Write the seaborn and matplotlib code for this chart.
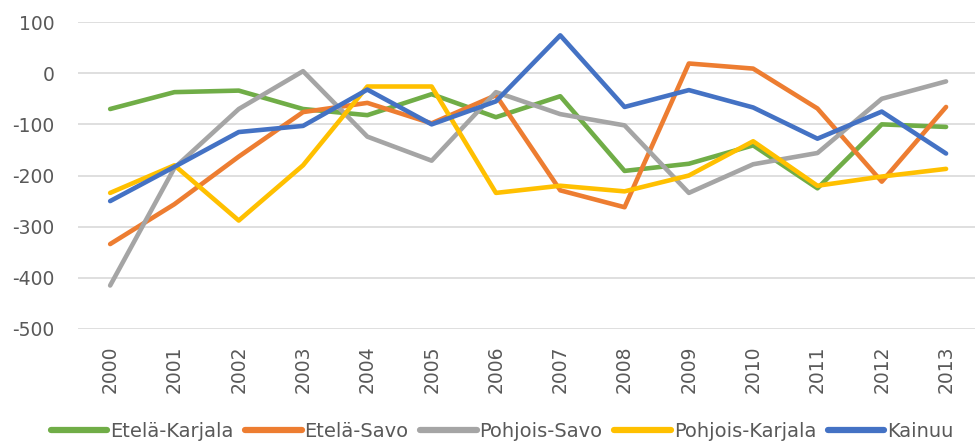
import matplotlib
matplotlib.use("Agg")
import matplotlib.pyplot as plt
import pandas as pd
import seaborn as sns

years = list(range(2000, 2014))

etela_karjala = [-70, -37, -34, -70, -82, -41, -86, -45, -191, -177, -141, -225, -100, -105]
etela_savo = [-334, -256, -163, -76, -58, -98, -43, -229, -262, 19, 9, -69, -212, -66]
pohjois_savo = [-415, -185, -70, 4, -124, -171, -37, -80, -102, -234, -178, -156, -50, -16]
pohjois_karjala = [-234, -180, -288, -180, -26, -26, -234, -220, -231, -200, -133, -220, -202, -187]
kainuu = [-250, -183, -115, -103, -32, -100, -55, 74, -66, -33, -67, -128, -75, -157]

regions = ["Etelä-Karjala", "Etelä-Savo", "Pohjois-Savo", "Pohjois-Karjala", "Kainuu"]
series = [etela_karjala, etela_savo, pohjois_savo, pohjois_karjala, kainuu]
colors = ["#70AD47", "#ED7D31", "#A5A5A5", "#FFC000", "#4472C4"]

rows = []
for name, vals in zip(regions, series):
    for y, v in zip(years, vals):
        rows.append({"year": y, "value": v, "region": name})
df = pd.DataFrame(rows)

sns.set_style("white")
plt.rcParams["font.family"] = ["DejaVu Sans"]
plt.rcParams["axes.unicode_minus"] = False

fig = plt.figure(figsize=(9.75, 4.41), dpi=100)
ax = fig.add_axes([0.08, 0.254, 0.92, 0.696])

sns.lineplot(data=df, x="year", y="value", hue="region", hue_order=regions,
             palette=colors, linewidth=3.3, legend=False, ax=ax)
for line in ax.lines:
    line.set_solid_joinstyle("round")
    line.set_solid_capstyle("round")

ax.set_ylim(-500, 100)
ax.set_yticks(range(-500, 101, 100))
ax.set_xlim(1999.5, 2013.45)
ax.set_xticks(years)
ax.set_xticklabels([str(y) for y in years], rotation=90, va="top", ha="center")
ax.grid(axis="y", color="#D9D9D9", linewidth=1.2)
ax.set_axisbelow(True)
for s in ax.spines.values():
    s.set_visible(False)
ax.tick_params(axis="y", length=0, pad=17, labelsize=13.5, labelcolor="#595959")
ax.tick_params(axis="x", length=0, pad=12, labelsize=13.5, labelcolor="#595959")
ax.set_xlabel("")
ax.set_ylabel("")

handles = [plt.Line2D([], [], color=c, linewidth=4.5, solid_capstyle="round") for c in colors]
fig.legend(handles, regions, loc="center", bbox_to_anchor=(0.515, 0.022), ncol=5,
           frameon=False, fontsize=14, handlelength=2.9, handletextpad=0.15,
           columnspacing=0.6, labelcolor="#595959", borderpad=0, borderaxespad=0)

fig.savefig("out.png", dpi=100)
